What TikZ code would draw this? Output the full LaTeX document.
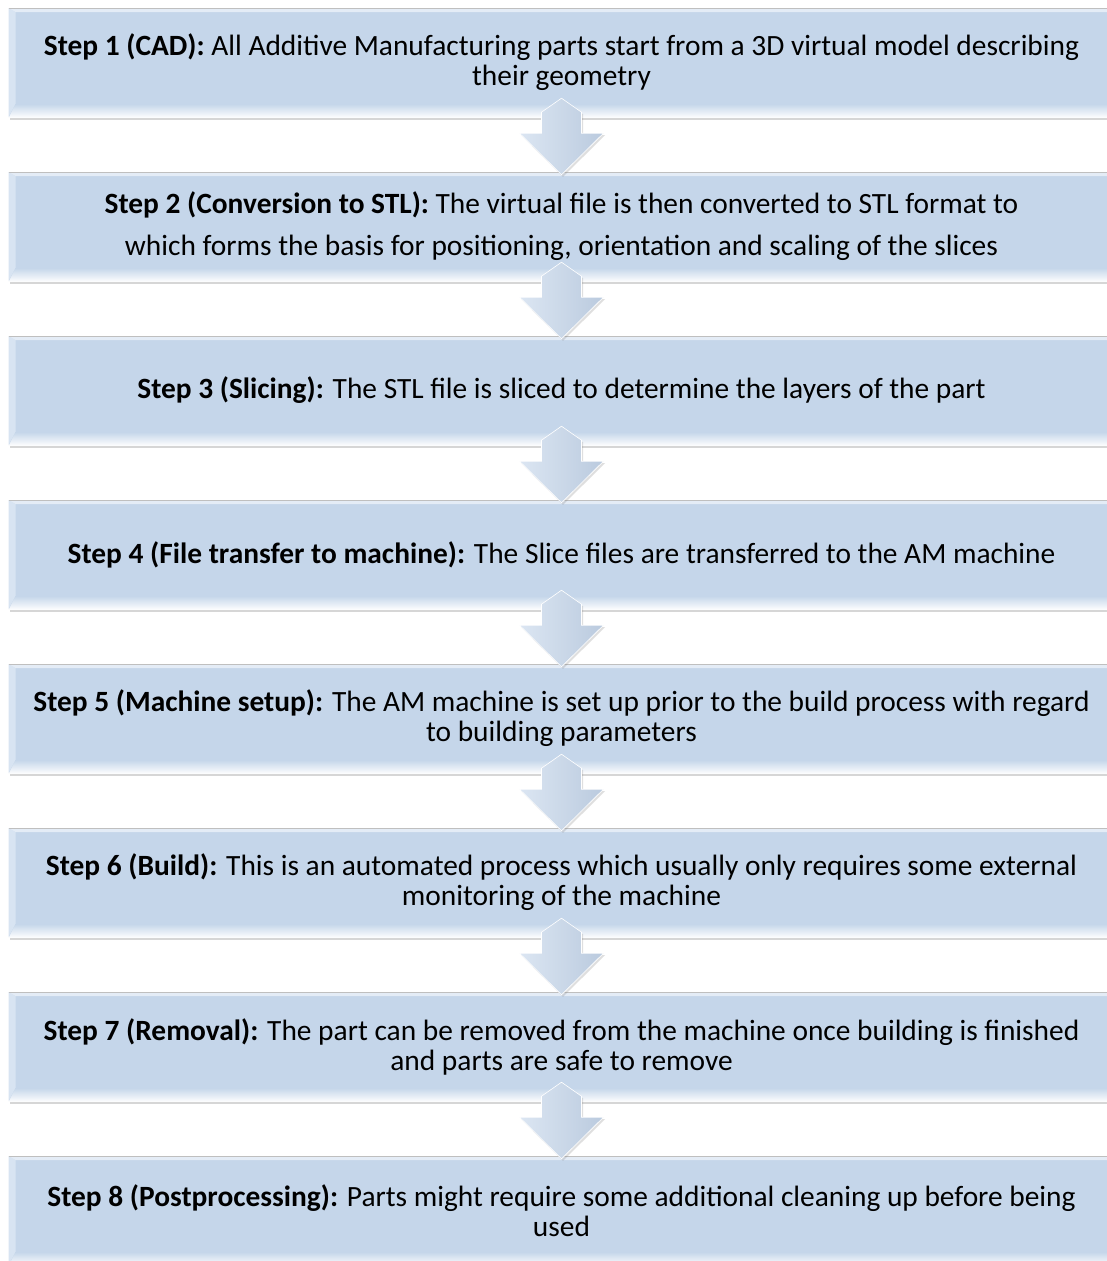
\documentclass[tikz,border=0pt]{standalone}
\usepackage{fontspec}
\setmainfont{Carlito}
\usepackage{tikz}
\usetikzlibrary{calc,shadows}
\definecolor{boxblue}{RGB}{197,214,234}
\definecolor{bevelblue}{RGB}{216,228,242}
\definecolor{arrowblue}{RGB}{196,213,234}
\tikzstyle{stepbox} = [rectangle, minimum width=1106pt, minimum height=109pt, inner sep=0pt, align=center, fill=boxblue,
	font=\fontsize{29.4}{30}\selectfont,
	drop shadow={shadow xshift=1pt, shadow yshift=-3pt, opacity=0.35, fill=black!45},
	path picture={
		\fill[bevelblue] (path picture bounding box.south west) -- (path picture bounding box.north west) -- ([xshift=7pt,yshift=-4pt]path picture bounding box.north west) -- ([xshift=7pt,yshift=13pt]path picture bounding box.south west) -- cycle;
		\fill[bevelblue!70!white] (path picture bounding box.north west) -- (path picture bounding box.north east) -- ([xshift=-7pt,yshift=-4pt]path picture bounding box.north east) -- ([xshift=7pt,yshift=-4pt]path picture bounding box.north west) -- cycle;
		\shade[top color=boxblue, bottom color=white] ([yshift=-1pt]path picture bounding box.south west) -- ([xshift=7pt,yshift=13pt]path picture bounding box.south west) -- ([xshift=-7pt,yshift=13pt]path picture bounding box.south east) -- ([yshift=-1pt]path picture bounding box.south east) -- cycle;
		\draw[black!25, line width=0.8pt] (path picture bounding box.north west) -- (path picture bounding box.north east);
	}]
\tikzstyle{blockarrow} = [left color=arrowblue!60!white, right color=arrowblue!95!black, draw=white, line width=0.6pt,
	drop shadow={shadow xshift=1.5pt, shadow yshift=-2pt, opacity=0.25, fill=black!50},
	to path={let \p1 = (\tikztostart.south), \p2 = (\tikztotarget.north) in
		(\x1,\y1+19pt) -- (\x1+20pt,\y1+5pt) -- (\x1+20pt,\y1-16pt) -- (\x1+42pt,\y1-16pt) -- (\x1,\y2-3pt)
		-- (\x1-42pt,\y1-16pt) -- (\x1-20pt,\y1-16pt) -- (\x1-20pt,\y1+5pt) -- cycle}]

\begin{document}
\begin{tikzpicture}[node distance = 164pt]
	\fill[white] (0,0) rectangle (1106pt,-1261pt);
	\useasboundingbox (0,0) rectangle (1106pt,-1261pt);

	\node (s1) [stepbox] at (561.5pt,-62.5pt) {\textbf{Step 1 (CAD):} All Additive Manufacturing parts start from a 3D virtual model describing\\their geometry};
	\node (s2) [stepbox, below of = s1] {\textbf{Step 2 (Conversion to STL):} The virtual file is then converted to STL format to\\[12pt]which forms the basis for positioning, orientation and scaling of the slices};
	\node (s3) [stepbox, below of = s2] {\textbf{Step 3 (Slicing):} The STL file is sliced to determine the layers of the part};
	\node (s4) [stepbox, below of = s3] {\textbf{Step 4 (File transfer to machine):} The Slice files are transferred to the AM machine};
	\node (s5) [stepbox, below of = s4] {\textbf{Step 5 (Machine setup):} The AM machine is set up prior to the build process with regard\\to building parameters};
	\node (s6) [stepbox, below of = s5] {\textbf{Step 6 (Build):} This is an automated process which usually only requires some external\\monitoring of the machine};
	\node (s7) [stepbox, below of = s6] {\textbf{Step 7 (Removal):} The part can be removed from the machine once building is finished\\and parts are safe to remove};
	\node (s8) [stepbox, below of = s7] {\textbf{Step 8 (Postprocessing):} Parts might require some additional cleaning up before being\\used};

	\draw [blockarrow] (s1) to (s2);
	\draw [blockarrow] (s2) to (s3);
	\draw [blockarrow] (s3) to (s4);
	\draw [blockarrow] (s4) to (s5);
	\draw [blockarrow] (s5) to (s6);
	\draw [blockarrow] (s6) to (s7);
	\draw [blockarrow] (s7) to (s8);
\end{tikzpicture}
\end{document}
